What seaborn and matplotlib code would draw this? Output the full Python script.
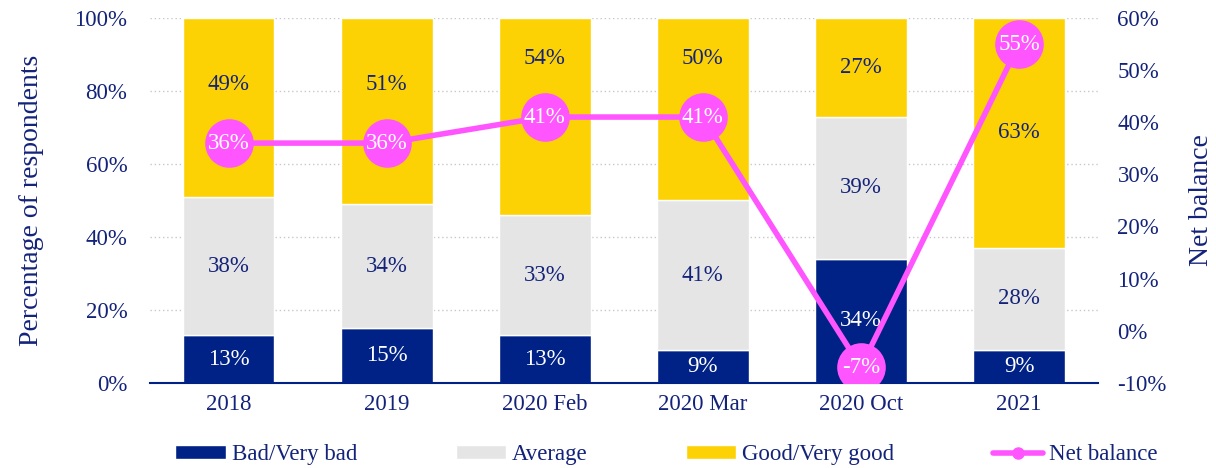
import matplotlib

matplotlib.use("Agg")
import matplotlib.pyplot as plt
from matplotlib.lines import Line2D
from matplotlib.patches import Patch
from matplotlib.ticker import FuncFormatter, MultipleLocator
import numpy as np
import pandas as pd
import seaborn as sns


CATEGORIES = ["2018", "2019", "2020 Feb", "2020 Mar", "2020 Oct", "2021"]
BAD = [13, 15, 13, 9, 34, 9]
AVERAGE = [38, 34, 33, 41, 39, 28]
GOOD = [49, 51, 54, 50, 27, 63]
NET_BALANCE = [36, 36, 41, 41, -7, 55]

NAVY = "#002185"
GREY = "#e5e5e5"
YELLOW = "#fdd204"
MAGENTA = "#ff55ff"
TEXT = "#14237a"

sns.set_theme(style="white")
plt.rcParams["font.family"] = ["Liberation Serif", "DejaVu Serif"]
plt.rcParams["text.color"] = TEXT

frame = pd.DataFrame(
    {"category": CATEGORIES, "bad": BAD, "average": AVERAGE, "good": GOOD, "net": NET_BALANCE}
)
frame["bottom_avg"] = frame["bad"]
frame["bottom_good"] = frame["bad"] + frame["average"]

fig = plt.figure(figsize=(12.16, 4.68), dpi=100)
ax = fig.add_axes([0.123, 0.182, 0.78, 0.7795])

bar_width = 0.58
sns.barplot(data=frame, x="category", y="bad", color=NAVY, width=bar_width,
            saturation=1, ax=ax, zorder=2)
sns.barplot(data=frame, x="category", y="average", bottom=frame["bottom_avg"], color=GREY,
            width=bar_width, saturation=1, ax=ax, zorder=2)
sns.barplot(data=frame, x="category", y="good", bottom=frame["bottom_good"], color=YELLOW,
            width=bar_width, saturation=1, ax=ax, zorder=2)

# net balance on the left-axis scale, used to keep the "good" labels clear of the markers
net_on_left = (frame["net"] + 10) / 70 * 100

# segment labels
for i, row in frame.iterrows():
    ax.text(i, row["bad"] / 2, f"{row['bad']}%", ha="center", va="center",
            color="white", fontsize=16.5, zorder=3)
    ax.text(i, row["bottom_avg"] + row["average"] / 2, f"{row['average']}%", ha="center",
            va="center", color=TEXT, fontsize=16.5, zorder=3)
    good_y = row["bottom_good"] + row["good"] / 2
    if abs(good_y - net_on_left[i]) < 12:
        good_y = min(net_on_left[i] + 16, 92)
    ax.text(i, good_y, f"{row['good']}%", ha="center",
            va="center", color=TEXT, fontsize=16.5, zorder=3)

ax.set_xlim(-0.5, 5.5)
ax.set_ylim(0, 100)
ax.yaxis.set_major_locator(MultipleLocator(20))
ax.yaxis.set_major_formatter(FuncFormatter(lambda v, _: f"{v:.0f}%"))
ax.grid(axis="y", color="#c8c8c8", linestyle=(0, (1, 2)), linewidth=1, zorder=0)
ax.set_axisbelow(True)
for side in ["top", "right", "left"]:
    ax.spines[side].set_visible(False)
ax.spines["bottom"].set_color(NAVY)
ax.spines["bottom"].set_linewidth(1.5)
ax.tick_params(axis="both", colors=TEXT, labelsize=16.5, length=0, pad=8)
ax.tick_params(axis="y", pad=16)
ax.set_xlabel("")
ax.set_ylabel("Percentage of respondents", fontsize=20, color=TEXT, labelpad=22)

ax2 = ax.twinx()
sns.lineplot(x=np.arange(len(CATEGORIES)), y=frame["net"], color=MAGENTA, linewidth=4,
             marker="o", markersize=35, markeredgewidth=0, ax=ax2, zorder=4)
for i, v in enumerate(NET_BALANCE):
    ax2.text(i, v, f"{v}%", ha="center", va="center", color="white", fontsize=16.5, zorder=5)
ax2.set_ylim(-10, 60)
ax2.yaxis.set_major_locator(MultipleLocator(10))
ax2.yaxis.set_major_formatter(FuncFormatter(lambda v, _: f"{v:.0f}%"))
for side in ["top", "right", "left", "bottom"]:
    ax2.spines[side].set_visible(False)
ax2.tick_params(axis="y", colors=TEXT, labelsize=16.5, length=0, pad=14)
ax2.set_ylabel("Net balance", fontsize=20, color=TEXT, labelpad=16)
ax2.grid(False)

handles = [
    Patch(facecolor=NAVY, label="Bad/Very bad"),
    Patch(facecolor=GREY, label="Average"),
    Patch(facecolor=YELLOW, label="Good/Very good"),
    Line2D([0], [0], color=MAGENTA, linewidth=4, marker="o", markersize=8, label="Net balance"),
]
fig.legend(handles=handles, loc="center", bbox_to_anchor=(0.548, 0.028), ncol=4, frameon=False,
           fontsize=16.5, handlelength=2.2, handleheight=0.57, columnspacing=4.3,
           labelcolor=TEXT, handletextpad=0.25)

fig.savefig("out.png", dpi=100)
